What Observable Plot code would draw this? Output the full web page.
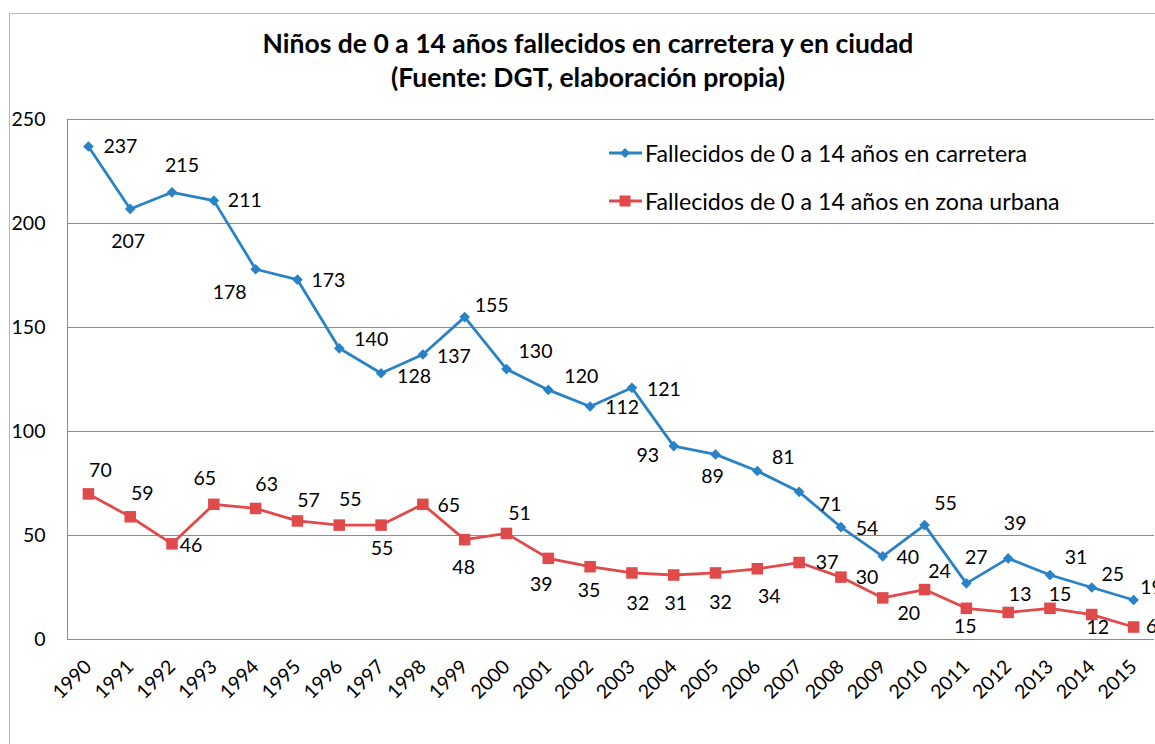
<!DOCTYPE html>
<html>
<head>
<meta charset="utf-8">
<script src="https://cdn.jsdelivr.net/npm/d3@7"></script>
<script src="https://cdn.jsdelivr.net/npm/@observablehq/plot@0.6"></script>
<style>
  html, body { margin: 0; padding: 0; background: #fff; overflow: hidden; }
  body { width: 1155px; height: 744px; position: relative; font-family: Lato, "Noto Sans", sans-serif; }
  #border { position: absolute; left: 9px; top: 13px; width: 1300px; height: 900px; border: 1px solid #b8b8b8; box-sizing: border-box; }
  #title { position: absolute; left: 0; width: 1176px; top: 26px; text-align: center; font-weight: bold; font-size: 26.5px; line-height: 34px; color: #000; }
  #chart { position: absolute; left: 0; top: 0; }
  #legend { position: absolute; left: 608px; top: 138px; font-size: 23.2px; color: #000; }
  .li { display: flex; align-items: center; height: 30px; margin-bottom: 18px; }
  .li svg { margin-right: 2px; }
</style>
</head>
<body>
<div id="border"></div>
<div id="title">Niños de 0 a 14 años fallecidos en carretera y en ciudad<br>(Fuente: DGT, elaboración propia)</div>
<div id="chart"></div>
<div id="legend"></div>
<script>
const years = ["1990","1991","1992","1993","1994","1995","1996","1997","1998","1999","2000","2001","2002","2003","2004","2005","2006","2007","2008","2009","2010","2011","2012","2013","2014","2015"];
const carretera = [237,207,215,211,178,173,140,128,137,155,130,120,112,121,93,89,81,71,54,40,55,27,39,31,25,19];
const urbana = [70,59,46,65,63,57,55,55,65,48,51,39,35,32,31,32,34,37,30,20,24,15,13,15,12,6];
const yTicks = [0,50,100,150,200,250];
const seriesNames = ["Fallecidos de 0 a 14 años en carretera","Fallecidos de 0 a 14 años en zona urbana"];
const colors = ["#2a82c6","#e04a4a"];

// label placement offsets (pixels from the point, label centre)
const labelOffsetCarretera = [[32,0],[-2,33],[10,-27],[31,0],[-26,23],[31,1],[32,-9],[33,3],[31,2],[27,-11],[29,-17],[33,-13],[32,1],[32,2],[-26,10],[-3,22],[26,-13],[31,13],[26,2],[25,1],[21,-21],[10,-26],[7,-35],[26,-17],[21,-13],[18,-12]];
const labelOffsetUrbana = [[12,-23],[12,-23],[19,2],[-9,-26],[11,-24],[11,-20],[11,-25],[1,24],[26,1],[-1,28],[13,-20],[-7,26],[-1,24],[6,31],[2,29],[5,30],[12,28],[28,0],[26,1],[26,16],[15,-18],[-1,18],[12,-18],[10,-14],[6,13],[18,0]];

const road = years.map((y, i) => ({year: y, value: carretera[i]}));
const urban = years.map((y, i) => ({year: y, value: urbana[i]}));

function labels(data, offsets) {
  return data.map((d, i) => Plot.text([d], {x: "year", y: "value", text: d => String(d.value), dx: offsets[i][0], dy: offsets[i][1], fontSize: 19.5, fill: "#000"}));
}

const chart = Plot.plot({
  width: 1155,
  height: 744,
  marginTop: 119,
  marginBottom: 105,
  marginLeft: 67,
  marginRight: 1,
  style: {fontFamily: "Lato, 'Noto Sans', sans-serif", fontSize: "19.5px", color: "#000", background: "transparent", overflow: "visible"},
  x: {type: "point", domain: years, padding: 0.5, round: false},
  y: {domain: [0, 250]},
  marks: [
    Plot.gridY(yTicks, {stroke: "#8c8c8c", strokeOpacity: 1, strokeWidth: 1}),
    Plot.frame({anchor: "left", stroke: "#8c8c8c"}),
    Plot.axisY(yTicks, {tickSize: 0, tickPadding: 22, label: null, fontSize: 19.5}),
    Plot.axisX({tickSize: 0, tickPadding: 24, tickRotate: -45, label: null, fontSize: 19.5}),
    Plot.line(road, {x: "year", y: "value", stroke: colors[0], strokeWidth: 2.8}),
    Plot.dot(road, {x: "year", y: "value", symbol: "diamond2", r: 4.8, fill: colors[0], stroke: null}),
    Plot.line(urban, {x: "year", y: "value", stroke: colors[1], strokeWidth: 2.8}),
    Plot.dot(urban, {x: "year", y: "value", symbol: "square", r: 6.5, fill: colors[1], stroke: null}),
    ...labels(road, labelOffsetCarretera),
    ...labels(urban, labelOffsetUrbana)
  ]
});
document.getElementById("chart").appendChild(chart);

const legend = document.getElementById("legend");
const shapes = [
  '<polygon points="17,2 22,7 17,12 12,7" fill="' + colors[0] + '"/>',
  '<rect x="11.5" y="1.5" width="11" height="11" fill="' + colors[1] + '"/>'
];
seriesNames.forEach((name, i) => {
  const row = document.createElement("div");
  row.className = "li";
  row.innerHTML = '<svg width="35" height="14"><line x1="1" x2="34" y1="7" y2="7" stroke="' + colors[i] + '" stroke-width="2.8"/>' + shapes[i] + '</svg><span>' + name + '</span>';
  legend.appendChild(row);
});
</script>
</body>
</html>
